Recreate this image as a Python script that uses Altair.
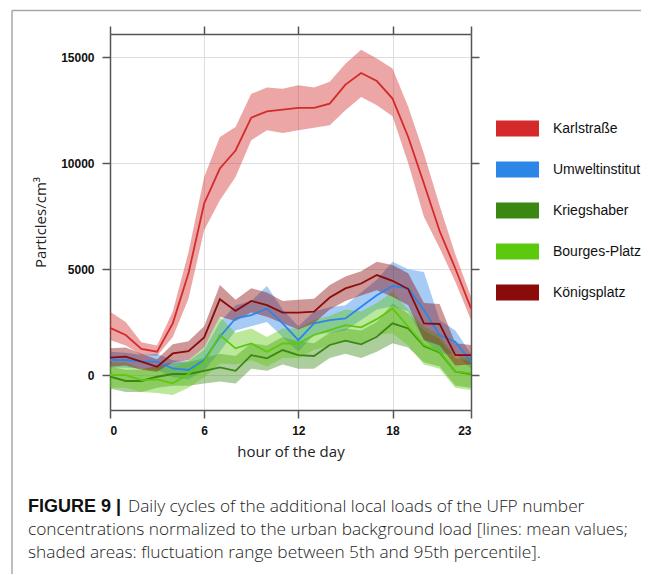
import altair as alt
import pandas as pd

hours = list(range(24))
stations = ["Karlstraße", "Umweltinstitut", "Kriegshaber", "Bourges-Platz", "Königsplatz"]
colors = ["#D42A2A", "#2B86E6", "#3A8712", "#5CC80E", "#8B0A0A"]

karl_mean = [2230, 1890, 1230, 1100, 2440, 4800, 8100, 9750, 10600, 12150, 12450, 12530,
             12610, 12610, 12810, 13710, 14260, 13880, 13050, 11240, 9040, 6800, 5030, 3150]
karl_lo = [1650, 1400, 950, 900, 1800, 3600, 6840, 8250, 9350, 11080, 11560, 11430,
           11560, 11680, 11790, 12500, 13130, 12740, 12220, 10000, 7470, 6000, 4400, 2600]
karl_hi = [2990, 2500, 1550, 1400, 3000, 5800, 9350, 11240, 11710, 13280, 13570, 13520,
           13680, 13570, 13840, 14700, 15360, 14940, 14470, 12660, 10460, 8000, 5700, 3700]

umw_mean = [710, 710, 630, 630, 310, 240, 710, 1810, 2670, 2830, 3140, 2440,
            1650, 2440, 2590, 2670, 3220, 3770, 4210, 4090, 3070, 1890, 1570, 630]
umw_lo = [350, 350, 300, 250, -100, -200, 200, 1100, 2100, 2300, 2500, 1800,
          1100, 1900, 2000, 2100, 2600, 3100, 3250, 3000, 1650, 1000, 1000, 300]
umw_hi = [1100, 1050, 950, 1000, 700, 650, 1200, 2500, 3300, 3500, 4200, 3100,
          2300, 3000, 3200, 3300, 3900, 4500, 5350, 5000, 4870, 2600, 2100, 1000]

krieg_mean = [-80, -280, -280, -80, 50, 50, 200, 360, 200, 940, 790, 1180,
              940, 900, 1420, 1620, 1450, 1810, 2440, 2200, 1370, 1070, 160, 50]
krieg_lo = [-630, -800, -800, -600, -500, -500, -400, -300, -400, 300, 200, 500,
            300, 300, 800, 1000, 800, 1100, 1500, 1300, 600, 400, -500, -600]
krieg_hi = [390, 250, 250, 450, 600, 600, 800, 1000, 900, 1500, 1400, 1800,
            1600, 1500, 2000, 2200, 2100, 2500, 3380, 2900, 2100, 1700, 800, 650]

bourg_mean = [0, 0, -240, -200, -390, 50, 630, 1890, 1260, 1490, 1100, 1490,
              1490, 1890, 2120, 2360, 2250, 2640, 3140, 2280, 1420, 1100, 160, 80]
bourg_lo = [-600, -600, -800, -850, -940, -600, -100, 550, 500, 700, 400, 800,
            800, 1200, 1400, 1600, 1500, 1900, 1970, 1400, 500, 300, -600, -700]
bourg_hi = [600, 600, 300, 350, 310, 700, 1300, 2750, 2000, 2200, 1800, 2200,
            2200, 2600, 2800, 3100, 3000, 3400, 3930, 3100, 2300, 1900, 900, 800]

koen_mean = [820, 865, 630, 390, 1020, 1130, 1780, 3580, 3030, 3500, 3300, 2950,
             2950, 2990, 3660, 4090, 4320, 4720, 4450, 4060, 2440, 2410, 940, 940]
koen_lo = [390, 450, 250, 160, 600, 700, 1300, 2750, 2550, 2950, 2750, 2450,
           2150, 2450, 3100, 3500, 3750, 4000, 3700, 3300, 1650, 1400, 450, 500]
koen_hi = [1260, 1300, 1000, 750, 1450, 1600, 2300, 4250, 3550, 4100, 3900, 3500,
           3550, 3600, 4250, 4650, 4900, 5350, 5200, 4800, 3400, 3350, 1500, 1420]

x_ticks = [0, 6, 12, 18, 23]
y_ticks = [0, 5000, 10000, 15000]

caption_bold = "FIGURE 9 |"
caption_line1 = "Daily cycles of the additional local loads of the UFP number"
caption_rest = ["concentrations normalized to the urban background load [lines: mean values;",
                "shaded areas: fluctuation range between 5th and 95th percentile]."]

series = {
    "Karlstraße": (karl_mean, karl_lo, karl_hi),
    "Umweltinstitut": (umw_mean, umw_lo, umw_hi),
    "Kriegshaber": (krieg_mean, krieg_lo, krieg_hi),
    "Bourges-Platz": (bourg_mean, bourg_lo, bourg_hi),
    "Königsplatz": (koen_mean, koen_lo, koen_hi),
}
rows = []
for i, name in enumerate(stations):
    m, lo, hi = series[name]
    for h in hours:
        rows.append({"hour": h, "station": name, "order": i,
                     "mean": m[h], "lo": lo[h], "hi": hi[h]})
df = pd.DataFrame(rows)

W, H = 361, 376
xscale = alt.Scale(domain=[0, 23], nice=False, zero=False)
yscale = alt.Scale(domain=[-1650, 16100], nice=False, zero=False)
cscale = alt.Scale(domain=stations, range=colors)

FONT = "Liberation Sans"
TITLE_FONT = "Open Sans"

x_axis = alt.Axis(values=x_ticks, title="hour of the day", grid=True, gridColor="#dedede",
                  domainColor="#555555", domainWidth=1.5, tickColor="#555555", tickWidth=1.5,
                  tickSize=8, labelFont=FONT, labelFontWeight="bold", labelFontSize=12,
                  labelColor="#111111", labelPadding=7, titleFont=TITLE_FONT,
                  titleFontSize=15, titleFontWeight="normal", titleColor="#222222",
                  titlePadding=8, format="d")
y_axis = alt.Axis(values=y_ticks, title="Particles/cm³", grid=True, gridColor="#dedede",
                  domainColor="#555555", domainWidth=1.5, tickColor="#555555", tickWidth=1.5,
                  tickSize=8, labelFont=FONT, labelFontWeight="bold", labelFontSize=12,
                  labelColor="#111111", labelPadding=8, titleFont=TITLE_FONT,
                  titleFontSize=15, titleFontWeight="normal", titleColor="#222222",
                  titlePadding=12, format="d")

base = alt.Chart(df)

areas = base.mark_area(opacity=0.42).encode(
    x=alt.X("hour:Q", scale=xscale, axis=x_axis),
    y=alt.Y("lo:Q", scale=yscale, axis=y_axis),
    y2="hi:Q",
    color=alt.Color("station:N", scale=cscale, legend=alt.Legend(
        title=None, orient="none", legendX=386, legendY=73, padding=0,
        symbolType="M-1,-0.372H1V0.372H-1Z", symbolSize=1849, symbolOpacity=1,
        symbolStrokeWidth=0, rowPadding=11, labelOffset=14, labelFont=FONT,
        labelFontSize=14, labelColor="#111111")),
    detail="station:N",
)

lines = base.mark_line(strokeWidth=1.8).encode(
    x=alt.X("hour:Q", scale=xscale, axis=None),
    y=alt.Y("mean:Q", scale=yscale, axis=None),
    color=alt.Color("station:N", scale=cscale, legend=None),
    detail="station:N",
)

frame_axes = base.mark_line(opacity=0).encode(
    x=alt.X("hour:Q", scale=xscale, axis=alt.Axis(
        orient="top", values=x_ticks, labels=False, title=None, grid=False,
        domainColor="#555555", domainWidth=1.5, tickColor="#555555", tickWidth=1.5, tickSize=8)),
    y=alt.Y("mean:Q", scale=yscale, axis=alt.Axis(
        orient="right", values=y_ticks, labels=False, title=None, grid=False,
        domainColor="#555555", domainWidth=1.5, tickColor="#555555", tickWidth=1.5, tickSize=8)),
    detail="station:N",
)

one = alt.Chart(pd.DataFrame({"k": [0]}))
top_rule = one.mark_rule(color="#a8a8a8", strokeWidth=1.5).encode(
    x=alt.value(-98), x2=alt.value(539), y=alt.value(-23.6))
left_rule = one.mark_rule(color="#a8a8a8", strokeWidth=1.5).encode(
    x=alt.value(-98), y=alt.value(-23.6), y2=alt.value(540))

CAP_FONT = "Open Sans"
cap_bold = one.mark_text(text=caption_bold, font="Liberation Sans", fontWeight="bold", fontSize=18,
                         align="left", baseline="alphabetic", color="#111111").encode(
    x=alt.value(-82), y=alt.value(478))
cap_1 = one.mark_text(text=caption_line1, font=CAP_FONT, fontWeight=300, fontSize=17.3,
                      align="left", baseline="alphabetic", color="#222222").encode(
    x=alt.value(18), y=alt.value(478))
cap_2 = one.mark_text(text=caption_rest, font=CAP_FONT, fontWeight=300, fontSize=17.3,
                      lineHeight=23, align="left", baseline="alphabetic",
                      color="#222222").encode(
    x=alt.value(-82), y=alt.value(501))

chart = alt.layer(areas, lines, frame_axes, top_rule, left_rule, cap_bold, cap_1, cap_2).resolve_axis(
    x="independent", y="independent"
).properties(
    width=W, height=H,
    autosize=alt.AutoSizeParams(type="none"),
    padding={"left": 102, "top": 26, "right": 170, "bottom": 165},
    background="white",
).configure_view(stroke=None)

chart.save("out.html", embed_options={"renderer": "svg", "actions": False})
